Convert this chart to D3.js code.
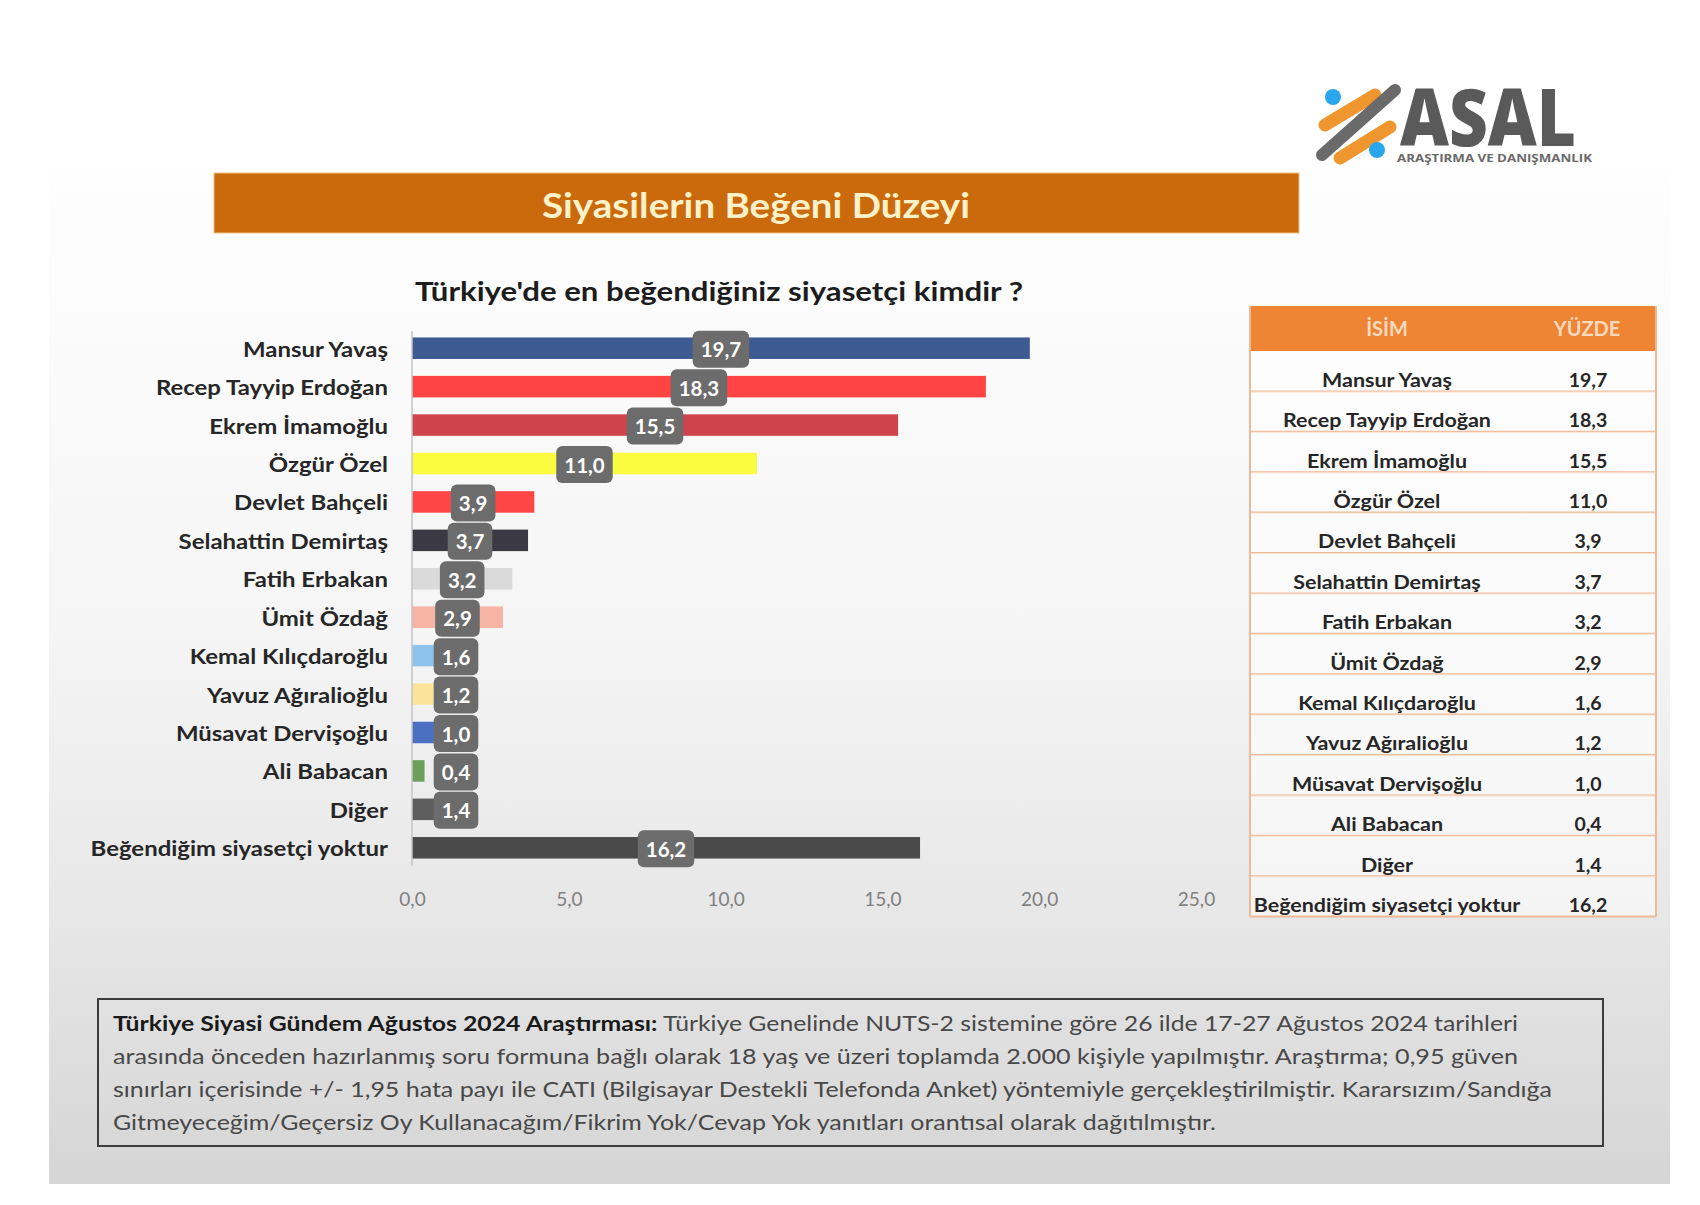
<!DOCTYPE html>
<html><head><meta charset="utf-8">
<script src="https://cdn.jsdelivr.net/npm/d3@7"></script>
<style>body{margin:0;background:#fff}svg{display:block}</style>
</head><body>
<svg id="c" width="1700" height="1205"></svg>
<script>
const categories = ["Mansur Yavaş","Recep Tayyip Erdoğan","Ekrem İmamoğlu","Özgür Özel","Devlet Bahçeli","Selahattin Demirtaş","Fatih Erbakan","Ümit Özdağ","Kemal Kılıçdaroğlu","Yavuz Ağıralioğlu","Müsavat Dervişoğlu","Ali Babacan","Diğer","Beğendiğim siyasetçi yoktur"];
const values = [19.7,18.3,15.5,11.0,3.9,3.7,3.2,2.9,1.6,1.2,1.0,0.4,1.4,16.2];
const barColors = ["#3d5a92","#ff4444","#cf434a","#fbfb40","#ff4646","#3b3a42","#dadada","#f7b3a3","#8ec3ee","#fbe49a","#4b70c2","#6b9f5a","#5d5d5d","#4a4a4a"];
const xTicks = [0,5,10,15,20,25];
const tableHeader = ["İSİM","YÜZDE"];
const titleText = "Siyasilerin Beğeni Düzeyi";
const subtitleText = "Türkiye'de en beğendiğiniz siyasetçi kimdir ?";
const logoName = "ASAL";
const logoSub = "ARAŞTIRMA VE DANIŞMANLIK";
const noteBold = "Türkiye Siyasi Gündem Ağustos 2024 Araştırması:";
const noteLines = [
 " Türkiye Genelinde NUTS-2 sistemine göre 26 ilde 17-27 Ağustos 2024 tarihleri",
 "arasında önceden hazırlanmış soru formuna bağlı olarak 18 yaş ve üzeri toplamda 2.000 kişiyle yapılmıştır. Araştırma; 0,95 güven",
 "sınırları içerisinde +/- 1,95 hata payı ile CATI (Bilgisayar Destekli Telefonda Anket) yöntemiyle gerçekleştirilmiştir. Kararsızım/Sandığa",
 "Gitmeyeceğim/Geçersiz Oy Kullanacağım/Fikrim Yok/Cevap Yok yanıtları orantısal olarak dağıtılmıştır."
];

const svg = d3.select("#c");
const FONT = "Lato, 'Open Sans', sans-serif";
const locale = d3.formatLocale({decimal: ",", thousands: ".", grouping: [3], currency: ["", ""]});
const fmt = locale.format(".1f");

// uniform horizontal widening of text to mimic the original face
function widen(sel, k){
  sel.each(function(){
    const w = this.getComputedTextLength();
    d3.select(this).attr("textLength", w*k).attr("lengthAdjust","spacingAndGlyphs");
  });
}

// background slide
const defs = svg.append("defs");
const g = defs.append("linearGradient").attr("id","bg").attr("x1",0).attr("y1",0).attr("x2",0).attr("y2",1);
g.append("stop").attr("offset","0%").attr("stop-color","#fefefe");
g.append("stop").attr("offset","45%").attr("stop-color","#f5f5f5");
g.append("stop").attr("offset","75%").attr("stop-color","#e6e6e6");
g.append("stop").attr("offset","100%").attr("stop-color","#d5d5d5");
svg.append("rect").attr("x",49).attr("y",173).attr("width",1621).attr("height",1011).attr("fill","url(#bg)");

// title banner
svg.append("rect").attr("x",214).attr("y",173).attr("width",1085).attr("height",60)
  .attr("fill","#ca6a0c").attr("stroke","#f2c17e").attr("stroke-width",1);
svg.append("text").attr("x",756).attr("y",204).attr("text-anchor","middle").attr("dominant-baseline","central")
  .attr("font-family",FONT).attr("font-weight",700).attr("font-size",34).attr("fill","#fff1c9")
  .attr("textLength",428).attr("lengthAdjust","spacingAndGlyphs").text(titleText);

// logo
const logo = svg.append("g");
logo.append("line").attr("x1",1325).attr("y1",125).attr("x2",1375).attr("y2",95).attr("stroke","#f0962e").attr("stroke-width",13).attr("stroke-linecap","round");
logo.append("line").attr("x1",1340).attr("y1",158).attr("x2",1390).attr("y2",127).attr("stroke","#f0962e").attr("stroke-width",13).attr("stroke-linecap","round");
logo.append("line").attr("x1",1322).attr("y1",155).attr("x2",1395).attr("y2",90).attr("stroke","#6a6a6a").attr("stroke-width",12).attr("stroke-linecap","round");
logo.append("circle").attr("cx",1333).attr("cy",97).attr("r",8).attr("fill","#2aa6ec");
logo.append("circle").attr("cx",1377).attr("cy",150).attr("r",8).attr("fill","#2aa6ec");
logo.append("text").attr("x",1400).attr("y",146).attr("font-family","'Open Sans', sans-serif").attr("font-weight",800)
  .attr("font-size",80).attr("fill","#5a5a5a").attr("textLength",176).attr("lengthAdjust","spacingAndGlyphs").text(logoName);
logo.append("text").attr("x",1397).attr("y",162).attr("font-family","'Open Sans', sans-serif").attr("font-weight",700)
  .attr("font-size",10.5).attr("fill","#6a6a6a").attr("textLength",195).attr("lengthAdjust","spacingAndGlyphs").text(logoSub);

// subtitle
svg.append("text").attr("x",719).attr("y",291).attr("text-anchor","middle").attr("dominant-baseline","central")
  .attr("font-family",FONT).attr("font-weight",700).attr("font-size",26).attr("fill","#1c1c1c")
  .attr("textLength",608).attr("lengthAdjust","spacingAndGlyphs").text(subtitleText);

// chart
const x = d3.scaleLinear().domain([0,25]).range([412,1196]);
const y = d3.scaleBand().domain(categories).range([329,867]).paddingInner(0.44).paddingOuter(0.22);
const data = categories.map((c,i)=>({c, v: values[i], col: barColors[i]}));

svg.append("g").selectAll("rect").data(data).join("rect")
  .attr("x",x(0)).attr("y",d=>y(d.c)).attr("width",d=>x(d.v)-x(0)).attr("height",y.bandwidth()).attr("fill",d=>d.col);

svg.append("line").attr("x1",x(0)).attr("x2",x(0)).attr("y1",331).attr("y2",866).attr("stroke","#c4c4c4").attr("stroke-width",1.5);

svg.append("g").selectAll("text").data(data).join("text")
  .attr("x",388).attr("y",d=>y(d.c)+y.bandwidth()/2).attr("text-anchor","end").attr("dominant-baseline","central")
  .attr("font-family",FONT).attr("font-weight",700).attr("font-size",21).attr("fill","#262626").text(d=>d.c)
  .call(widen, 1.14);

// x tick labels
const xAxis = svg.append("g").attr("transform","translate(0,892)")
  .call(d3.axisBottom(x).tickValues(xTicks).tickFormat(fmt).tickSize(0).tickPadding(0));
xAxis.select(".domain").remove();
xAxis.selectAll("text").attr("font-family",FONT).attr("font-size",19).attr("fill","#808080").attr("dy","0.71em");

// value labels
const lab = svg.append("g").selectAll("g").data(data).join("g")
  .attr("transform",d=>`translate(${Math.max(x(d.v/2), x(0)+44)},${y(d.c)+y.bandwidth()/2+1})`);
lab.append("rect").attr("fill","#6c6c6c").attr("rx",6);
lab.append("text").attr("text-anchor","middle").attr("dominant-baseline","central")
  .attr("font-family",FONT).attr("font-weight",700).attr("font-size",20.5).attr("fill","#ffffff").text(d=>fmt(d.v));
lab.each(function(){
  const t = d3.select(this).select("text").node();
  const w = t.getComputedTextLength()+16;
  d3.select(this).select("rect").attr("x",-w/2).attr("y",-18.5).attr("width",w).attr("height",37);
});

// table
const tx0 = 1250, tx1 = 1656, hy0 = 306, hy1 = 351, rowH = 40.4;
svg.append("rect").attr("x",tx0).attr("y",hy0).attr("width",tx1-tx0).attr("height",hy1-hy0).attr("fill","#ee8534");
svg.append("text").attr("x",1387).attr("y",328).attr("text-anchor","middle").attr("dominant-baseline","central")
  .attr("font-family",FONT).attr("font-weight",700).attr("font-size",20).attr("fill","#fbd9bd").text(tableHeader[0]);
svg.append("text").attr("x",1587).attr("y",328).attr("text-anchor","middle").attr("dominant-baseline","central")
  .attr("font-family",FONT).attr("font-weight",700).attr("font-size",20).attr("fill","#fbd9bd").text(tableHeader[1]);
const rows = svg.append("g").selectAll("g").data(data).join("g").attr("transform",(d,i)=>`translate(0,${hy1+i*rowH})`);
rows.append("rect").attr("x",tx0).attr("y",0).attr("width",tx1-tx0).attr("height",rowH).attr("fill","#ffffff").attr("opacity",0.55);
rows.append("line").attr("x1",tx0).attr("x2",tx1).attr("y1",rowH).attr("y2",rowH).attr("stroke","#efb996").attr("stroke-width",2);
rows.append("text").attr("x",1387).attr("y",rowH-12).attr("text-anchor","middle").attr("dominant-baseline","central")
  .attr("font-family",FONT).attr("font-weight",700).attr("font-size",19.5).attr("fill","#262626").text(d=>d.c)
  .call(widen, 1.1);
rows.append("text").attr("x",1588).attr("y",rowH-12).attr("text-anchor","middle").attr("dominant-baseline","central")
  .attr("font-family",FONT).attr("font-weight",700).attr("font-size",19.5).attr("fill","#262626").text(d=>fmt(d.v));
const tBottom = hy1 + rowH*categories.length;
[tx0,tx1].forEach(xx=>svg.append("line").attr("x1",xx).attr("x2",xx).attr("y1",hy0).attr("y2",tBottom).attr("stroke","#efb996").attr("stroke-width",2));

// footnote
svg.append("rect").attr("x",98).attr("y",999).attr("width",1505).attr("height",147).attr("fill","none").attr("stroke","#3c3c3c").attr("stroke-width",2);
const lineEnds = [1518,1518,1552,1216];
const lineY = [1022,1055,1088,1121];
noteLines.forEach((ln,i)=>{
  const t = svg.append("text").attr("x",113).attr("y",lineY[i]).attr("dominant-baseline","central")
    .attr("font-family",FONT).attr("font-size",21).attr("fill","#484848")
    .attr("textLength",lineEnds[i]-113).attr("lengthAdjust","spacingAndGlyphs");
  if(i===0){ t.append("tspan").attr("font-weight",700).attr("fill","#1a1a1a").text(noteBold); }
  t.append("tspan").text(ln);
});
</script>
</body></html>
